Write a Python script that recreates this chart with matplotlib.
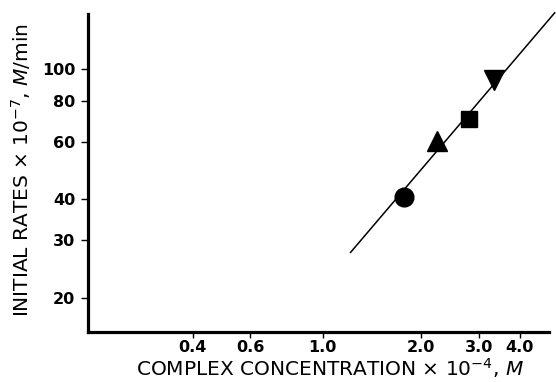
import matplotlib
matplotlib.use("Agg")
import matplotlib.pyplot as plt
from matplotlib.ticker import FixedLocator, NullLocator

# data
conc = [1.77, 2.23, 2.80, 3.33]          # complex concentration x 1e-4 M
rates = [40.8, 60.4, 70.4, 92.5]         # initial rates x 1e-7 M/min
markers = ['o', '^', 's', 'v']
sizes = [13.5, 14, 11, 14]

fit_x = [1.215, 5.12]
fit_y = [27.5, 149.0]

xticks = [0.4, 0.6, 1.0, 2.0, 3.0, 4.0]
xticklabels = ['0.4', '0.6', '1.0', '2.0', '3.0', '4.0']
yticks = [20, 30, 40, 60, 80, 100]
yticklabels = ['20', '30', '40', '60', '80', '100']

plt.rcParams['font.family'] = ['DejaVu Sans']
plt.rcParams['mathtext.fontset'] = 'dejavusans'

fig = plt.figure(figsize=(5.56, 3.82), dpi=100)
ax = fig.add_axes([0.158, 0.131, 0.829, 0.832])
ax.set_xscale('log')
ax.set_yscale('log')
ax.set_xlim(0.191, 4.91)
ax.set_ylim(15.7, 147.6)

ax.plot(fit_x, fit_y, color='black', lw=1.1, clip_on=False, zorder=2)
for x, y, m, s in zip(conc, rates, markers, sizes):
    ax.plot([x], [y], marker=m, ms=s, color='black', ls='none', zorder=3)

ax.spines['top'].set_visible(False)
ax.spines['right'].set_visible(False)
ax.spines['left'].set_linewidth(2.3)
ax.spines['bottom'].set_linewidth(2.3)

ax.xaxis.set_major_locator(FixedLocator(xticks))
ax.xaxis.set_minor_locator(NullLocator())
ax.set_xticklabels(xticklabels, fontsize=11.5, fontweight='bold')
ax.yaxis.set_major_locator(FixedLocator(yticks))
ax.yaxis.set_minor_locator(NullLocator())
ax.set_yticklabels(yticklabels, fontsize=11.5, fontweight='bold')
ax.tick_params(axis='x', direction='out', length=4, width=1, pad=2)
ax.tick_params(axis='y', direction='out', length=5, width=1, pad=4)

ax.set_xlabel(r'COMPLEX CONCENTRATION $\times$ 10$^{-4}$, $\it{M}$', fontsize=14.5, labelpad=0)
ax.xaxis.set_label_coords(0.525, -0.077)
ax.set_ylabel(r'INITIAL RATES $\times$ 10$^{-7}$, $\it{M}$/min', fontsize=14.5)
ax.yaxis.set_label_coords(-0.12, 0.51)

fig.savefig('out.png', dpi=100)
